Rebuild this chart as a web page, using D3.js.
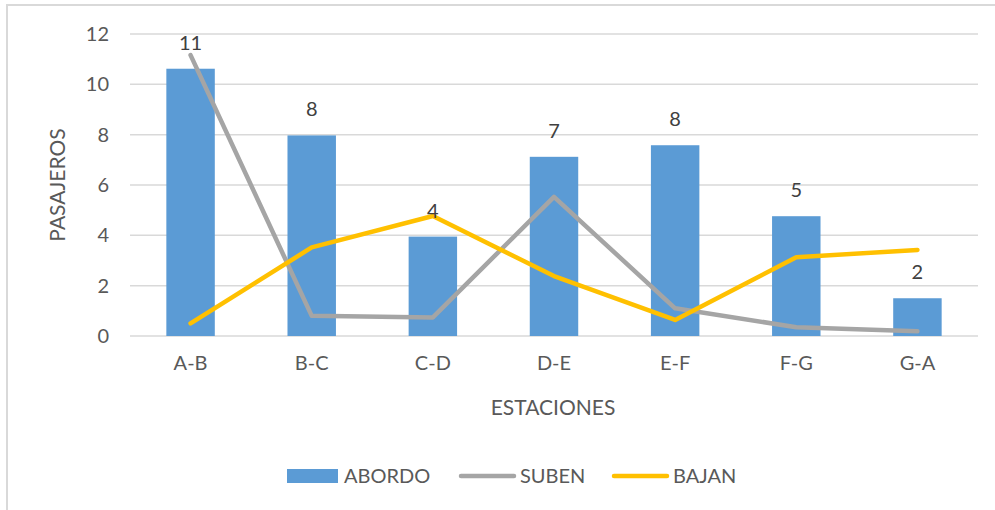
<!DOCTYPE html>
<html>
<head>
<meta charset="utf-8">
<script src="https://cdn.jsdelivr.net/npm/d3@7"></script>
<style>
  body { margin: 0; background: #fff; }
  text { font-family: Lato, 'Open Sans', sans-serif; }
</style>
</head>
<body>
<div id="vis"></div>
<script>
const estaciones = ['A-B', 'B-C', 'C-D', 'D-E', 'E-F', 'F-G', 'G-A'];
const abordo = [10.62, 7.97, 3.95, 7.12, 7.58, 4.76, 1.5];
const abordoLabels = ['11', '8', '4', '7', '8', '5', '2'];
const suben = [11.16, 0.8, 0.74, 5.53, 1.1, 0.35, 0.19];
const bajan = [0.5, 3.52, 4.77, 2.38, 0.64, 3.13, 3.42];
const yTicks = [0, 2, 4, 6, 8, 10, 12];

const width = 995;
const height = 510;
const margin = { top: 34, right: 17, bottom: 174, left: 130 };

const svg = d3.select('#vis')
    .append('svg')
    .attr('width', width)
    .attr('height', height);

// borde del gráfico
svg.append('rect')
    .attr('x', 7)
    .attr('y', 5)
    .attr('width', width + 10)
    .attr('height', height + 10)
    .attr('fill', 'none')
    .attr('stroke', '#d9d9d9')
    .attr('stroke-width', 2);

const x = d3.scaleBand()
    .domain(estaciones)
    .range([margin.left, width - margin.right]);

const y = d3.scaleLinear()
    .domain([0, 12])
    .range([336, margin.top]);

// líneas de cuadrícula
svg.append('g')
    .selectAll('line')
    .data(yTicks)
    .join('line')
    .attr('x1', margin.left)
    .attr('x2', width - margin.right)
    .attr('y1', d => y(d))
    .attr('y2', d => y(d))
    .attr('stroke', '#d9d9d9')
    .attr('stroke-width', 1.5);

const yAxis = svg.append('g')
    .attr('transform', `translate(${margin.left - 21}, 0)`)
    .call(d3.axisLeft(y).tickValues(yTicks).tickSize(0).tickPadding(0));
yAxis.select('.domain').remove();
yAxis.selectAll('text')
    .attr('font-size', '20px')
    .attr('fill', '#595959');

const xAxis = svg.append('g')
    .attr('transform', `translate(0, ${y(0)})`)
    .call(d3.axisBottom(x).tickSize(0).tickPadding(20));
xAxis.select('.domain').remove();
xAxis.selectAll('text')
    .attr('font-size', '20px')
    .attr('fill', '#595959');

// títulos de ejes
svg.append('text')
    .attr('transform', `translate(65, ${(y(0) + y(12)) / 2}) rotate(-90)`)
    .attr('text-anchor', 'middle')
    .attr('font-size', '21px')
    .attr('fill', '#595959')
    .text('PASAJEROS');

svg.append('text')
    .attr('x', 553)
    .attr('y', 415)
    .attr('text-anchor', 'middle')
    .attr('font-size', '21px')
    .attr('fill', '#595959')
    .text('ESTACIONES');

// barras
const barW = x.bandwidth() * 0.4;
svg.append('g')
    .selectAll('rect')
    .data(abordo)
    .join('rect')
    .attr('x', (d, i) => x(estaciones[i]) + (x.bandwidth() - barW) / 2)
    .attr('y', d => y(d))
    .attr('width', barW)
    .attr('height', d => y(0) - y(d))
    .attr('fill', '#5b9bd5');

// líneas
const line = d3.line()
    .x((d, i) => x(estaciones[i]) + x.bandwidth() / 2)
    .y(d => y(d));

svg.append('path')
    .datum(suben)
    .attr('d', line)
    .attr('fill', 'none')
    .attr('stroke', '#a5a5a5')
    .attr('stroke-width', 4.5)
    .attr('stroke-linecap', 'round')
    .attr('stroke-linejoin', 'round');

svg.append('path')
    .datum(bajan)
    .attr('d', line)
    .attr('fill', 'none')
    .attr('stroke', '#ffc000')
    .attr('stroke-width', 4.5)
    .attr('stroke-linecap', 'round')
    .attr('stroke-linejoin', 'round');

// etiquetas de datos
svg.append('g')
    .selectAll('text')
    .data(abordo)
    .join('text')
    .attr('x', (d, i) => x(estaciones[i]) + x.bandwidth() / 2)
    .attr('y', d => y(d) - 19)
    .attr('text-anchor', 'middle')
    .attr('font-size', '20px')
    .attr('fill', '#404040')
    .text((d, i) => abordoLabels[i]);

// leyenda
const legend = svg.append('g').attr('transform', 'translate(0, 476)');

legend.append('rect')
    .attr('x', 287)
    .attr('y', -7)
    .attr('width', 51)
    .attr('height', 14)
    .attr('fill', '#5b9bd5');
legend.append('text')
    .attr('x', 344)
    .attr('y', 7)
    .attr('font-size', '20px')
    .attr('fill', '#595959')
    .text('ABORDO');

legend.append('line')
    .attr('x1', 461).attr('x2', 514)
    .attr('stroke', '#a5a5a5')
    .attr('stroke-width', 4.5)
    .attr('stroke-linecap', 'round');
legend.append('text')
    .attr('x', 520)
    .attr('y', 7)
    .attr('font-size', '20px')
    .attr('fill', '#595959')
    .text('SUBEN');

legend.append('line')
    .attr('x1', 614).attr('x2', 667)
    .attr('stroke', '#ffc000')
    .attr('stroke-width', 4.5)
    .attr('stroke-linecap', 'round');
legend.append('text')
    .attr('x', 673)
    .attr('y', 7)
    .attr('font-size', '20px')
    .attr('fill', '#595959')
    .text('BAJAN');
</script>
</body>
</html>
